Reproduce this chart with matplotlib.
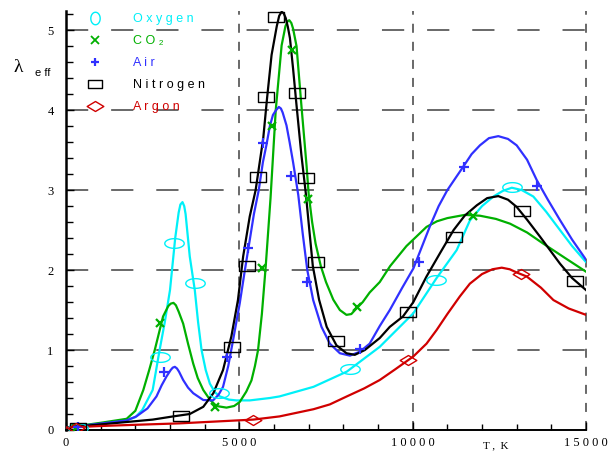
import numpy as np
import matplotlib
matplotlib.use('Agg')
import matplotlib.pyplot as plt
from matplotlib.path import Path
from matplotlib.lines import Line2D
from matplotlib.ticker import FixedLocator, MultipleLocator, FixedFormatter

plt.rcParams['lines.scale_dashes'] = False

# curves (T in K, lambda_eff)
oxygen_T = [0, 1000, 1750, 2000, 2200, 2500, 2700, 2850, 3000, 3150, 3250, 3300, 3360, 3410, 3450,
            3570, 3715, 3810, 3910, 4030, 4150, 4300, 4440, 4700, 4920, 5300, 5880, 6160, 7140, 8100,
            9050, 10020, 10690, 11270, 11650, 12000, 12330, 12600, 12860, 13150, 13480, 13850, 14250,
            14600, 15000]
oxygen_L = [0.03, 0.08, 0.125, 0.16, 0.25, 0.5, 1.0, 1.35, 1.75, 2.4, 2.72, 2.82, 2.85, 2.8, 2.7,
            2.17, 1.75, 1.35, 1.0, 0.75, 0.58, 0.47, 0.42, 0.38, 0.37, 0.37, 0.40, 0.42, 0.54, 0.73,
            1.04, 1.46, 1.9, 2.25, 2.62, 2.8, 2.92, 2.99, 3.03, 3.0, 2.92, 2.73, 2.5, 2.3, 2.1]

co2_T = [0, 1000, 1750, 2000, 2230, 2400, 2560, 2800, 2950, 3020, 3100, 3170, 3250, 3380, 3520,
         3670, 3800, 3960, 4150, 4340, 4630, 4850, 5010, 5200, 5350, 5450, 5540, 5650, 5760, 5900,
         6050, 6220, 6330, 6390, 6440, 6500, 6550, 6650, 6790, 6940, 7000, 7100, 7200, 7350, 7500,
         7710, 7900, 8090, 8230, 8380, 8560, 8760, 9050, 9350, 9820, 10400, 10700, 11000, 11500,
         11940, 12400, 12810, 13300, 13770, 14400, 15000]
co2_L = [0.03, 0.09, 0.14, 0.24, 0.5, 0.75, 1.0, 1.42, 1.55, 1.58, 1.59, 1.56, 1.48, 1.33, 1.08,
         0.83, 0.65, 0.5, 0.38, 0.30, 0.28, 0.30, 0.35, 0.48, 0.62, 0.80, 1.0, 1.45, 2.04, 2.9,
         4.0, 4.81, 5.05, 5.11, 5.125, 5.09, 5.02, 4.8, 4.06, 3.3, 2.95, 2.6, 2.33, 2.05, 1.85,
         1.63, 1.5, 1.44, 1.45, 1.52, 1.6, 1.72, 1.85, 2.05, 2.3, 2.54, 2.61, 2.65, 2.69,
         2.68, 2.64, 2.58, 2.47, 2.33, 2.15, 1.98]

air_T = [0, 1000, 1750, 2030, 2350, 2610, 2760, 2900, 3020, 3080, 3140, 3200, 3260, 3380, 3520,
         3670, 3960, 4240, 4400, 4530, 4680, 4820, 5010, 5160, 5300, 5420, 5560, 5680, 5780, 5880,
         5970, 6060, 6140, 6200, 6250, 6360, 6450, 6550, 6700, 6830, 6960, 7130, 7370, 7610, 7900,
         8190, 8480, 8760, 9050, 9340, 9700, 10020, 10500, 10750, 11000, 11250, 11470, 11700, 11940,
         12200, 12470, 12750, 13000, 13300, 13580, 13900, 14250, 14600, 15000]
air_L = [0.03, 0.08, 0.12, 0.17, 0.27, 0.42, 0.56, 0.67, 0.75, 0.78, 0.79, 0.77, 0.73, 0.625, 0.53,
         0.46, 0.375, 0.37, 0.44, 0.54, 0.8, 1.125, 1.58, 2.0, 2.375, 2.7, 3.0, 3.35, 3.56, 3.8,
         3.94, 4.0, 4.04, 4.02, 3.97, 3.81, 3.6, 3.35, 2.94, 2.45, 2.0, 1.625, 1.29, 1.08, 0.96,
         0.93, 0.98, 1.08, 1.3, 1.5, 1.78, 2.02, 2.55, 2.8, 3.0, 3.16, 3.3, 3.45, 3.56,
         3.65, 3.675, 3.64, 3.56, 3.38, 3.125, 2.88, 2.625, 2.38, 2.13]

n2_T = [0, 1000, 1750, 2500, 3090, 3570, 3960, 4250, 4530, 4770, 4960, 5110, 5300, 5470, 5690,
        5800, 5930, 6080, 6150, 6220, 6280, 6340, 6400, 6460, 6550, 6650, 6790, 6920, 7030, 7120,
        7300, 7520, 7800, 8090, 8330, 8620, 9050, 9340, 9720, 10020, 10400, 10800, 11180, 11500,
        11850, 12150, 12470, 12750, 13000, 13300, 13670, 14250, 14600, 15000]
n2_L = [0.03, 0.07, 0.10, 0.13, 0.17, 0.2, 0.29, 0.46, 0.75, 1.17, 1.625, 2.17, 2.67, 3.0, 3.65,
        4.15, 4.69, 5.05, 5.18, 5.23, 5.21, 5.15, 5.04, 4.9, 4.52, 4.06, 3.44, 2.95, 2.45, 2.05,
        1.63, 1.29, 1.06, 0.96, 0.94, 1.0, 1.15, 1.29, 1.42, 1.6, 1.92, 2.22, 2.5, 2.68,
        2.81, 2.9, 2.925, 2.88, 2.79, 2.63, 2.42, 2.08, 1.9, 1.75]

ar_T = [0, 1000, 2000, 3280, 4500, 5400, 6160, 7140, 7610, 8100, 8600, 9050, 9500, 10020, 10400,
        10690, 11000, 11360, 11650, 12000, 12300, 12570, 12800, 13000, 13290, 13700, 14060, 14500,
        15000]
ar_L = [0.03, 0.05, 0.065, 0.083, 0.11, 0.13, 0.17, 0.26, 0.32, 0.42, 0.52, 0.625, 0.76, 0.92, 1.08,
        1.25, 1.45, 1.67, 1.83, 1.95, 2.01, 2.03, 2.01, 1.97, 1.92, 1.78, 1.625, 1.52, 1.44]

# experimental points
oxygen_mT = [350, 2700, 3120, 3715, 4400, 8200, 10670, 12870]
oxygen_mL = [0.03, 0.91, 2.34, 1.84, 0.46, 0.76, 1.87, 3.04]
co2_mT = [300, 2700, 4310, 5640, 5930, 6510, 6985, 8380, 11730]
co2_mL = [0.02, 1.34, 0.29, 2.03, 3.8, 4.75, 2.89, 1.54, 2.68]
air_mT = [350, 2830, 4630, 5260, 5690, 6480, 6940, 8480, 10170, 11480, 13580]
air_mL = [0.04, 0.72, 0.91, 2.27, 3.59, 3.18, 1.85, 1.01, 2.10, 3.29, 3.05]
n2_mT = [350, 3310, 4800, 5210, 5550, 5760, 6070, 6650, 6920, 7210, 7800, 9860, 11200, 13150, 14680]
n2_mL = [0.03, 0.18, 1.04, 2.05, 3.16, 4.17, 5.16, 4.21, 3.15, 2.10, 1.11, 1.48, 2.41, 2.74, 1.86]
ar_mT = [300, 5400, 9870, 13120]
ar_mL = [0.02, 0.13, 0.87, 1.95]

names = ['O x y g e n', 'C O \u2082', 'A i r', 'N i t r o g e n', 'A r g o n']
colors = ['#00f0f8', '#00b000', '#3030ff', '#000000', '#d00000']

# marker shapes
t = np.linspace(0, 2 * np.pi, 41)
ellipse = Path(np.column_stack([np.cos(t), 0.5 * np.sin(t)]), closed=True)
tall_o = Path(np.column_stack([0.75 * np.cos(t), np.sin(t)]), closed=True)
rect = Path([(-1, -0.6), (1, -0.6), (1, 0.6), (-1, 0.6), (-1, -0.6)], closed=True)
diamond = Path([(-1, 0), (0, 0.6), (1, 0), (0, -0.6), (-1, 0)], closed=True)

fig = plt.figure(figsize=(6.11, 4.54), dpi=100)
ax = fig.add_axes([66 / 611, 24 / 454, 520 / 611, 419 / 454])

curves = [(oxygen_T, oxygen_L), (co2_T, co2_L), (air_T, air_L), (n2_T, n2_L), (ar_T, ar_L)]
points = [(oxygen_mT, oxygen_mL), (co2_mT, co2_mL), (air_mT, air_mL), (n2_mT, n2_mL), (ar_mT, ar_mL)]
mstyles = [(ellipse, 14, 1.0), ('x', 6, 1.6), ('+', 6.5, 1.6), (rect, 11, 1.0), (diamond, 12, 1.0)]

for (cx, cy), c in zip(curves, colors):
    ax.plot(cx, cy, color=c, lw=1.6, zorder=3, solid_joinstyle='round')
for (px, py), c, (m, ms, mew) in zip(points, colors, mstyles):
    ax.plot(px, py, ls='none', marker=m, ms=ms, mew=mew, mec=c, mfc='none', zorder=4)

ax.set_xlim(0, 15000)
ax.set_ylim(0, 5.24)

# grid
for y in range(1, 6):
    ax.axhline(y, color='#404040', lw=1.1, ls=(0, (16, 16.5)), zorder=1)
for x in [5000, 10000, 15000]:
    ax.axvline(x, color='#404040', lw=1.1, ls=(0, (6.5, 6.5)), zorder=1, clip_on=False)

for s in ['top', 'right']:
    ax.spines[s].set_visible(False)
ax.spines['left'].set_linewidth(1.8)
ax.spines['bottom'].set_linewidth(1.4)

ax.xaxis.set_major_locator(FixedLocator([0, 5000, 10000, 15000]))
ax.xaxis.set_major_formatter(FixedFormatter(['0', '5 0 0 0', '1 0 0 0 0', '1 5 0 0 0']))
ax.xaxis.set_minor_locator(MultipleLocator(1000))
ax.yaxis.set_major_locator(MultipleLocator(1))
ax.yaxis.set_minor_locator(MultipleLocator(0.2))
ax.tick_params(which='both', direction='in', width=1, colors='black')
ax.tick_params(which='major', length=6)
ax.tick_params(axis='y', which='minor', length=5)
ax.tick_params(axis='x', which='minor', length=4)
ax.tick_params(axis='x', pad=5, labelsize=9)
ax.tick_params(axis='y', pad=9, labelsize=9)
for lab in ax.get_xticklabels() + ax.get_yticklabels():
    lab.set_family('Liberation Serif')

ax.set_xlabel('T ,  K', family='Liberation Serif', fontsize=8)
ax.xaxis.set_label_coords((496 - 66) / 520, -(445.7 - 430) / 419)
ax.xaxis.label.set_va('center')

fig.text(18 / 611, 1 - 67 / 454, '\u03bb', family='Liberation Serif', fontsize=14,
         ha='center', va='center')
fig.text(43 / 611, 1 - 73 / 454, 'e ff', family='Liberation Sans', fontsize=8,
         ha='center', va='center')

# legend
leg_markers = [(tall_o, 9, 1.0), ('x', 6, 1.3), ('+', 6, 1.6), (rect, 10, 1.0), (diamond, 12, 1.0)]
handles = [Line2D([], [], ls='none', marker=m, ms=ms, mew=mew, mec=c, mfc='none')
           for (m, ms, mew), c in zip(leg_markers, colors)]
leg = ax.legend(handles, names, loc='upper left', bbox_to_anchor=(89 / 611, 1 - 13 / 454),
                bbox_transform=fig.transFigure, frameon=False, borderpad=0, borderaxespad=0,
                handlelength=1.0, handletextpad=2.5, labelspacing=0.8,
                prop={'family': ['Liberation Sans', 'DejaVu Sans'], 'size': 9})
for txt, c in zip(leg.get_texts(), colors):
    txt.set_color(c)

fig.savefig('out.png', dpi=100)
